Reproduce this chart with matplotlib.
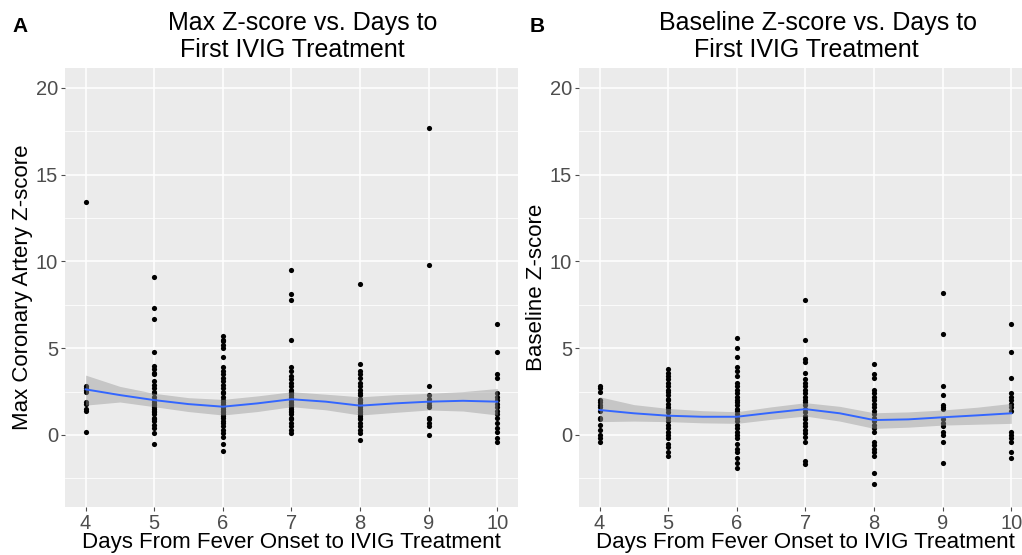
import numpy as np
import matplotlib
matplotlib.use("Agg")
import matplotlib.pyplot as plt
from matplotlib.ticker import MultipleLocator

plt.rcParams['font.family'] = ['Liberation Sans', 'DejaVu Sans']

days = [4, 5, 6, 7, 8, 9, 10]

# --- panel A: max coronary artery z-score, per day ---
max_z = {
    4: [13.4, 2.8, 2.7, 2.6, 2.5, 1.9, 1.8, 1.5, 1.4, 0.2],
    5: [9.1, 7.3, 6.7, 4.8, 4.0, 3.8, 3.6, 3.5, 3.1, 2.9, 2.7, 2.5, 2.4, 2.2, 2.0,
        1.9, 1.8, 1.7, 1.6, 1.5, 1.4, 1.3, 1.2, 1.0, 0.9, 0.8, 0.6, 0.4, 0.1, -0.5],
    6: [5.7, 5.5, 5.4, 5.2, 5.0, 4.5, 3.9, 3.7, 3.5, 3.3, 3.1, 2.9, 2.7, 2.5, 2.4,
        2.2, 2.0, 1.9, 1.8, 1.7, 1.6, 1.5, 1.4, 1.3, 1.2, 1.1, 1.0, 0.8, 0.7, 0.5,
        0.3, 0.1, -0.1, -0.5, -0.9],
    7: [9.5, 8.1, 7.8, 5.5, 3.9, 3.7, 3.4, 3.2, 3.0, 2.8, 2.6, 2.5, 2.4, 2.3, 2.2,
        2.1, 2.0, 1.9, 1.8, 1.7, 1.6, 1.5, 1.4, 1.3, 1.2, 1.0, 0.9, 0.7, 0.5, 0.3, 0.1],
    8: [8.7, 4.1, 3.7, 3.5, 3.3, 3.0, 2.8, 2.6, 2.4, 2.3, 2.1, 2.0, 1.9, 1.8, 1.7,
        1.6, 1.5, 1.4, 1.3, 1.2, 1.1, 1.0, 0.9, 0.7, 0.5, 0.3, 0.1, -0.3],
    9: [17.7, 9.8, 2.8, 2.3, 2.1, 1.9, 1.7, 1.6, 1.0, 0.9, 0.7, 0.5, 0.0],
    10: [6.4, 4.8, 3.5, 3.3, 2.4, 2.2, 2.0, 1.8, 1.6, 1.4, 1.2, 1.0, 0.7, 0.4, 0.2,
         -0.2, -0.4],
}

# --- panel B: baseline z-score, per day ---
base_z = {
    4: [2.8, 2.7, 2.5, 2.0, 1.9, 1.7, 1.6, 1.4, 1.0, 0.9, 0.6, 0.3, 0.0, -0.2, -0.4],
    5: [3.8, 3.6, 3.4, 3.2, 3.0, 2.8, 2.6, 2.5, 2.3, 2.1, 2.0, 1.8, 1.6, 1.5, 1.3,
        1.1, 1.0, 0.8, 0.6, 0.4, 0.2, 0.0, -0.2, -0.5, -0.7, -1.0, -1.2],
    6: [5.6, 5.0, 4.5, 3.9, 3.7, 3.4, 3.0, 2.8, 2.6, 2.4, 2.2, 2.0, 1.9, 1.7, 1.5,
        1.4, 1.2, 1.0, 0.8, 0.6, 0.4, 0.2, 0.0, -0.2, -0.5, -0.8, -1.0, -1.3, -1.6, -1.9],
    7: [7.8, 5.5, 4.4, 4.2, 3.6, 3.2, 3.0, 2.8, 2.6, 2.4, 2.2, 2.0, 1.9, 1.7, 1.5,
        1.3, 1.1, 0.9, 0.7, 0.5, 0.3, 0.1, -0.1, -0.4, -1.5, -1.7],
    8: [4.1, 3.5, 3.3, 2.6, 2.4, 2.2, 2.0, 1.8, 1.6, 1.4, 1.2, 1.0, 0.8, 0.6, 0.4,
        0.2, -0.4, -0.6, -0.8, -1.0, -1.2, -2.2, -2.8],
    9: [8.2, 5.8, 2.8, 2.3, 1.7, 1.6, 1.5, 0.9, 0.7, 0.5, 0.2, 0.0, -0.4, -1.6],
    10: [6.4, 4.8, 3.3, 2.4, 2.2, 2.0, 1.8, 1.6, 1.4, 0.2, 0.0, -0.2, -0.4, -1.0, -1.3],
}

# loess fit (fit, lower, upper)
fit_x = [4, 4.5, 5, 5.5, 6, 6.5, 7, 7.5, 8, 8.5, 9, 9.5, 10]
fit_a = [2.63, 2.30, 2.01, 1.78, 1.63, 1.82, 2.06, 1.92, 1.69, 1.82, 1.92, 1.97, 1.92]
lo_a = [1.72, 1.90, 1.63, 1.35, 1.15, 1.35, 1.63, 1.45, 1.15, 1.30, 1.44, 1.38, 1.15]
hi_a = [3.45, 2.80, 2.40, 2.15, 2.05, 2.25, 2.49, 2.35, 2.20, 2.32, 2.40, 2.50, 2.68]
fit_b = [1.44, 1.25, 1.11, 1.05, 1.05, 1.28, 1.49, 1.25, 0.86, 0.90, 1.02, 1.13, 1.25]
lo_b = [0.77, 0.80, 0.77, 0.70, 0.67, 0.90, 1.09, 0.80, 0.38, 0.45, 0.57, 0.62, 0.67]
hi_b = [2.20, 1.75, 1.53, 1.40, 1.34, 1.62, 1.86, 1.65, 1.28, 1.33, 1.44, 1.60, 1.82]

fig = plt.figure(figsize=(10.22, 5.55), dpi=100)
ax_a = fig.add_axes([0.0636, 0.0865, 0.4432, 0.791])
ax_b = fig.add_axes([0.5665, 0.0865, 0.4432, 0.791])


def draw_panel(ax, data, fx, fit, lo, hi, ylabel):
    ax.set_facecolor('#EBEBEB')
    for s in ax.spines.values():
        s.set_visible(False)
    ax.set_xlim(3.7, 10.3)
    ax.set_ylim(-4.15, 21.15)
    ax.set_xticks(days)
    ax.yaxis.set_major_locator(MultipleLocator(5))
    ax.yaxis.set_minor_locator(MultipleLocator(2.5))
    ax.grid(which='major', color='white', linewidth=1.1)
    ax.grid(which='minor', axis='y', color='white', linewidth=0.55)
    ax.set_axisbelow(True)
    ax.tick_params(which='major', colors='#4D4D4D', labelsize=14.5, length=3, width=0.8, pad=2)
    ax.tick_params(which='minor', length=0)
    for d in days:
        ax.scatter([d] * len(data[d]), data[d], s=14, color='black', linewidths=0, zorder=3)
    ax.fill_between(fx, lo, hi, color='#999999', alpha=0.45, linewidth=0, zorder=4)
    ax.plot(fx, fit, color='#3366FF', linewidth=1.4, zorder=5)
    ax.set_xlabel('Days From Fever Onset to IVIG Treatment', fontsize=16, labelpad=-1)
    ax.set_ylabel(ylabel, fontsize=16, labelpad=2)


draw_panel(ax_a, max_z, fit_x, fit_a, lo_a, hi_a, 'Max Coronary Artery Z-score')
draw_panel(ax_b, base_z, fit_x, fit_b, lo_b, hi_b, 'Baseline Z-score')

fig.text(303 / 1022, 1 - 30 / 555, 'Max Z-score vs. Days to', fontsize=18,
         ha='center', va='baseline')
fig.text(292 / 1022, 1 - 57 / 555, 'First IVIG Treatment', fontsize=18,
         ha='center', va='baseline')
fig.text(818 / 1022, 1 - 30 / 555, 'Baseline Z-score vs. Days to', fontsize=18,
         ha='center', va='baseline')
fig.text(806 / 1022, 1 - 57 / 555, 'First IVIG Treatment', fontsize=18,
         ha='center', va='baseline')
fig.text(12 / 1022, 1 - 32 / 555, 'A', fontsize=15, fontweight='bold', va='baseline')
fig.text(530 / 1022, 1 - 32 / 555, 'B', fontsize=15, fontweight='bold', va='baseline')

fig.savefig('out.png', dpi=100)
